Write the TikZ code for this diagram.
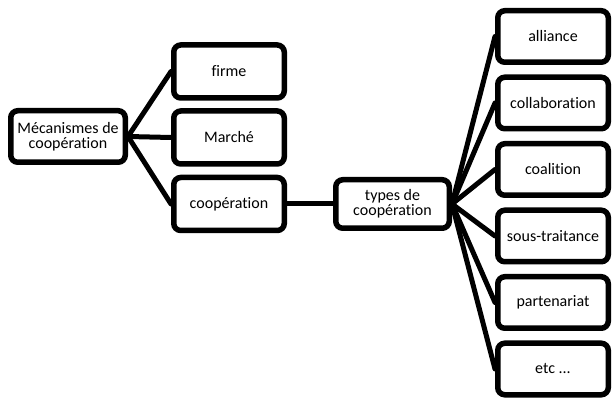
\documentclass[tikz,border=0pt]{standalone}
\usepackage{fontspec}
\setmainfont{Carlito}[Ligatures={NoCommon,NoRare,NoContextual}]
\begin{document}
\begin{tikzpicture}[x=1pt,y=1pt,
  box/.style={draw=black, line width=5.5pt, rounded corners=7pt, fill=white,
    align=center, inner sep=2pt, font=\fontsize{16}{15}\selectfont},
  lbox/.style={box, minimum width=110.5pt, minimum height=53pt},
  rbox/.style={box, minimum width=110.5pt, minimum height=51.5pt},
  link/.style={line width=5pt, line cap=round}]
\useasboundingbox (0,0) rectangle (612,401);
\node[box, minimum width=114.5pt, minimum height=51.5pt] (mec) at (68,264.5) {Mécanismes de\\coopération};
\node[lbox] (firme) at (229,329.5) {firme};
\node[lbox] (marche) at (229,263.5) {Marché};
\node[lbox] (coop) at (229,197) {coopération};
\node[box, minimum width=113.5pt, minimum height=48.5pt] (types) at (392.5,197) {types de\\coopération};
\node[rbox] (r1) at (553,364.5) {alliance};
\node[rbox] (r2) at (553,298) {collaboration};
\node[rbox] (r3) at (553,231.5) {coalition};
\node[rbox] (r4) at (553,165) {sous-traitance};
\node[rbox] (r5) at (553,98.5) {partenariat};
\node[rbox] (r6) at (553,32) {etc ...};
\foreach \c in {firme,marche,coop} \draw[link] (mec.east) -- (\c.west);
\draw[link] (coop.east) -- (types.west);
\foreach \c in {r1,r2,r3,r4,r5,r6} \draw[link] (types.east) -- (\c.west);
\end{tikzpicture}
\end{document}
